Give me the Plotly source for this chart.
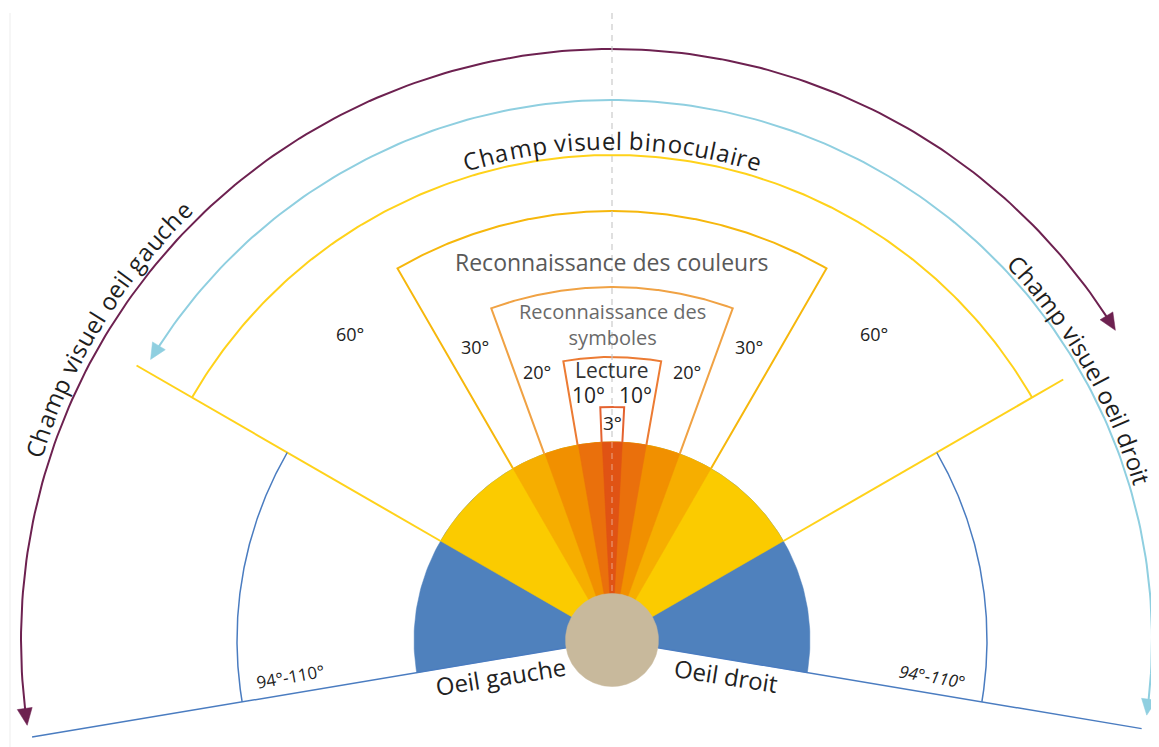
import math
import numpy as np
import plotly.graph_objects as go

# ---------------- data ----------------
zone_half_angles = [60, 30, 20, 10, 3]            # degrees on each side of the sight axis
zone_fill_colors = ["#FBCB00", "#F6AE00", "#F19000", "#EA700C", "#E05314"]
zone_outline_colors = ["#FFD21A", "#F6B70C", "#F0A244", "#EC7B33", "#E4622F"]
zone_side_labels = ["60°", "30°", "20°", "10°", "3°"]
zone_titles = ["", "Reconnaissance des couleurs", "Reconnaissance des<br>symboles", "Lecture", ""]
monocular_half_angle = 99.5
monocular_label = "94°-110°"
eye_labels = ["Oeil gauche", "Oeil droit"]
field_titles = ["Champ visuel binoculaire", "Champ visuel oeil gauche", "Champ visuel oeil droit"]
left_eye_field = [-98.3, 58.4]     # angular extent (deg) of the left-eye field arrow
right_eye_field = [-58.7, 98.0]    # angular extent (deg) of the right-eye field arrow

# ---------------- layout constants (pixels) ----------------
WIN_W, WIN_H = 1159, 747
PAGE_MARGIN = 8                    # default body margin of the html page
W_PX, H_PX = WIN_W - PAGE_MARGIN, WIN_H - PAGE_MARGIN
CX_PX, CY_PX = 612, 640            # centre of the eyes in window pixels
R_FAN = 198
R_EYE = 46.5
outline_outer_r = {30: 429, 20: 353, 10: 283, 3: 233}
R60_ARC = 485
R60_LINE = (549, 521)
R_BLUE_LINE = (588, 537)
R_BLUE_ARC = 375
R_PURPLE = 591
R_CYAN = 540
BLUE = "#4F81BD"
BLUE_LINE = "#4A7CC0"
PURPLE = "#6D2150"
CYAN = "#8FCFE0"
BEIGE = "#C8B99C"
FONT = "Open Sans"
TXT = "#222222"


def pol(r, th):
    t = math.radians(th)
    return r * math.sin(t), r * math.cos(t)


def arc(r, a0, a1, n=200):
    ths = np.linspace(a0, a1, n)
    return list(r * np.sin(np.radians(ths))), list(r * np.cos(np.radians(ths)))


fig = go.Figure()


def add_line(xs, ys, color, width, dash=None, opacity=1.0):
    fig.add_trace(go.Scatter(x=xs, y=ys, mode="lines", opacity=opacity,
                             line=dict(color=color, width=width, dash=dash),
                             hoverinfo="skip", showlegend=False))


def add_poly(xs, ys, color):
    fig.add_trace(go.Scatter(x=xs, y=ys, mode="lines", fill="toself", fillcolor=color,
                             line=dict(color=color, width=0.5),
                             hoverinfo="skip", showlegend=False))


def wedge(r, half):
    xs, ys = arc(r, -half, half)
    return [0] + xs + [0], [0] + ys + [0]


# faint frame line at the left
add_line([10 - CX_PX, 10 - CX_PX], [CY_PX - 13, CY_PX - WIN_H], "#EDEDED", 1)

# fan wedges
xs, ys = wedge(R_FAN, monocular_half_angle)
add_poly(xs, ys, BLUE)
for a, c in zip(zone_half_angles, zone_fill_colors):
    xs, ys = wedge(R_FAN, a)
    add_poly(xs, ys, c)

# zone outlines (3,10,20,30)
for a, c in zip(zone_half_angles, zone_outline_colors):
    if a not in outline_outer_r:
        continue
    ro = outline_outer_r[a]
    ax, ay = arc(ro, -a, a)
    p0 = pol(R_FAN, -a)
    p1 = pol(R_FAN, a)
    add_line([p0[0]] + ax + [p1[0]], [p0[1]] + ay + [p1[1]], c, 2)

# 60 degree limits
a60 = zone_half_angles[0]
ax, ay = arc(R60_ARC, -a60, a60)
add_line(ax, ay, zone_outline_colors[0], 2)
for side, rl in zip((-1, 1), R60_LINE):
    p0 = pol(R_FAN, side * a60)
    p1 = pol(rl, side * a60)
    add_line([p0[0], p1[0]], [p0[1], p1[1]], zone_outline_colors[0], 2)

# monocular limits
for side, rl in zip((-1, 1), R_BLUE_LINE):
    p0 = pol(R_EYE, side * monocular_half_angle)
    p1 = pol(rl, side * monocular_half_angle)
    add_line([p0[0], p1[0]], [p0[1], p1[1]], BLUE_LINE, 1.5)
    bx, by = arc(R_BLUE_ARC, side * a60, side * monocular_half_angle)
    add_line(bx, by, BLUE_LINE, 1.5)


# double-headed field arrows
def field_arrow(r, span, color, L, hw, width):
    a0, a1 = span
    d = math.degrees(L / r)
    ax, ay = arc(r, a0 + d * 0.8, a1 - d * 0.8)
    add_line(ax, ay, color, width)
    for th, sgn in ((a0, -1), (a1, 1)):
        tx, ty = pol(r, th)
        t = math.radians(th)
        dx, dy = sgn * math.cos(t), -sgn * math.sin(t)
        bx, by = tx - L * dx, ty - L * dy
        px, py = -dy, dx
        add_poly([tx, bx + hw * px, bx - hw * px, tx], [ty, by + hw * py, by - hw * py, ty], color)


field_arrow(R_PURPLE, left_eye_field, PURPLE, 17, 7.5, 2)
field_arrow(R_CYAN, right_eye_field, CYAN, 16, 7.5, 2)

# dashed sight axis
add_line([0, 0], [CY_PX - 13, R_FAN], "#C8C8C8", 1.5, dash="6px,5px", opacity=0.75)
add_line([0, 0], [R_FAN, R_EYE], "#F0F0F0", 1.5, dash="6px,5px", opacity=0.35)

# eyes (beige disc)
ex, ey = arc(R_EYE, -180, 180, 120)
add_poly(ex, ey, BEIGE)

annotations = []


def label(x, y, text, size, color=TXT, angle=0, italic=False):
    annotations.append(dict(x=x, y=y, xref="x", yref="y", text=text, showarrow=False,
                            xanchor="center", yanchor="middle", textangle=angle,
                            font=dict(family=FONT, size=size, color=color,
                                      style="italic" if italic else "normal")))


# side angle labels
side_pos = {60: (403, 40.5, 18), 30: (323, 25.0, 18), 20: (278, 15.7, 18), 10: (246, 5.5, 21)}
for a, lab in zip(zone_half_angles, zone_side_labels):
    if a in side_pos:
        r, th, fs = side_pos[a]
        for s in (-1, 1):
            x, y = pol(r, s * th)
            label(x, y, lab, fs)
    else:
        label(0, 217, lab, 19)

# zone titles
title_pos = {30: (378, 23, "#595959"), 20: (316, 20, "#6A6A6A"), 10: (270, 21, "#333333")}
for a, t in zip(zone_half_angles, zone_titles):
    if t:
        y, fs, col = title_pos[a]
        label(0, y, t, fs, col)

# eye labels
label(-112, -36, eye_labels[0], 24, angle=-9)
label(114, -35, eye_labels[1], 24, angle=9)

# monocular range labels
label(-322, -36, monocular_label, 17, angle=-10)
label(320, -36, monocular_label, 17, angle=10, italic=True)

# curved titles
CW = {'C': 0.634, 'h': 0.614, 'a': 0.573, 'm': 0.930, 'p': 0.613, ' ': 0.26, 'v': 0.513,
      'i': 0.253, 's': 0.487, 'u': 0.614, 'e': 0.561, 'l': 0.253, 'b': 0.613, 'n': 0.614,
      'o': 0.604, 'c': 0.488, 'r': 0.408, 'g': 0.548, 'd': 0.613, 't': 0.35}


def arc_text(text, r, th_c, fs, spacing):
    widths = [CW.get(ch, 0.55) * fs * spacing for ch in text]
    total = sum(widths)
    s = -total / 2
    for ch, w in zip(text, widths):
        mid = s + w / 2
        s += w
        if ch == " ":
            continue
        th = th_c + math.degrees(mid / r)
        x, y = pol(r, th)
        annotations.append(dict(x=x, y=y, xref="x", yref="y", text=ch, showarrow=False,
                                xanchor="center", yanchor="middle", textangle=th,
                                font=dict(family=FONT, size=fs, color="#1E1E1E")))


arc_text(field_titles[0], 500, 0.0, 24, 1.07)
arc_text(field_titles[1], 608, -58.4, 24, 1.045)
arc_text(field_titles[2], 553, 60.0, 24, 1.02)

# axes map one data unit to one screen pixel, the origin at the eyes' centre
x0 = -(CX_PX - PAGE_MARGIN)
y1 = CY_PX - PAGE_MARGIN
fig.update_layout(
    width=W_PX, height=H_PX,
    margin=dict(l=0, r=0, t=0, b=0),
    paper_bgcolor="white", plot_bgcolor="white",
    xaxis=dict(range=[x0, x0 + W_PX], visible=False, fixedrange=True),
    yaxis=dict(range=[y1 - H_PX, y1], visible=False, fixedrange=True),
    showlegend=False,
    annotations=annotations,
)

fig.write_html("out.html")
